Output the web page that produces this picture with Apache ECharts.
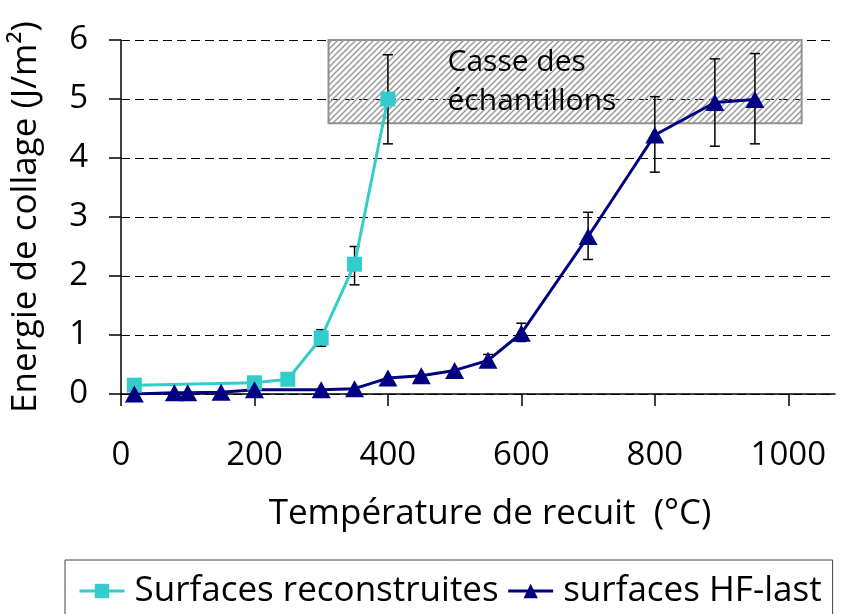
<!DOCTYPE html>
<html><head><meta charset="utf-8">
<script src="https://cdn.jsdelivr.net/npm/echarts@6/dist/echarts.min.js"></script>
<style>html,body{margin:0;padding:0;background:#fff}#c{width:847px;height:614px}</style>
</head><body><div id="c"></div>
<script>
// ---- data ----
const xTickLabels = [0, 200, 400, 600, 800, 1000];
const yTickLabels = [0, 1, 2, 3, 4, 5, 6];
const recName = 'Surfaces reconstruites';
const recX = [20, 200, 250, 300, 350, 400];
const recY = [0.15, 0.19, 0.25, 0.95, 2.2, 5.0];
const recErrX = [300, 350, 400];
const recErrLow = [0.81, 1.85, 4.24];
const recErrHigh = [1.09, 2.5, 5.75];
const hfName = 'surfaces HF-last';
const hfX = [20, 80, 100, 150, 200, 300, 350, 400, 450, 500, 550, 600, 700, 800, 890, 950];
const hfY = [0, 0.02, 0.02, 0.03, 0.07, 0.07, 0.09, 0.27, 0.31, 0.4, 0.57, 1.03, 2.67, 4.39, 4.94, 4.99];
const hfErrX = [550, 600, 700, 800, 890, 950];
const hfErrLow = [0.47, 0.89, 2.28, 3.76, 4.2, 4.24];
const hfErrHigh = [0.67, 1.2, 3.08, 5.04, 5.68, 5.77];
const zoneLabel = 'Casse des\néchantillons';
const zoneX = [311, 1020];
const zoneY = [4.59, 6.05];

// ---- build ----
const FONT = 'Open Sans';
const recData = recX.map((x, i) => [x, recY[i]]);
const hfData = hfX.map((x, i) => [x, hfY[i]]);
const errData = recErrX.map((x, i) => [x, recErrLow[i], recErrHigh[i]])
  .concat(hfErrX.map((x, i) => [x, hfErrLow[i], hfErrHigh[i]]));

// hatch pattern
const pc = document.createElement('canvas');
pc.width = 6; pc.height = 6;
const g = pc.getContext('2d');
g.strokeStyle = '#9a9a9a';
g.lineWidth = 1.5;
g.beginPath();
g.moveTo(0, 6); g.lineTo(6, 0);
g.moveTo(-1, 1); g.lineTo(1, -1);
g.moveTo(5, 7); g.lineTo(7, 5);
g.stroke();

const chart = echarts.init(document.getElementById('c'), null, {renderer: 'canvas'});
chart.setOption({
  animation: false,
  backgroundColor: '#fff',
  textStyle: {fontFamily: FONT, color: '#000'},
  grid: {left: 121, top: 40, right: 12, bottom: 220, containLabel: false},
  xAxis: {
    type: 'value', min: 0, max: 1070, interval: 200,
    name: 'Température de recuit  (°C)',
    nameLocation: 'middle', nameGap: 103,
    nameTextStyle: {fontFamily: FONT, fontSize: 35, color: '#000', padding: [0, 0, 0, 24]},
    axisLine: {show: true, lineStyle: {color: '#000', width: 1.5}},
    axisTick: {show: true, length: 12, lineStyle: {color: '#000', width: 1.5}},
    axisLabel: {
      fontFamily: FONT, fontSize: 33, color: '#000', margin: 45,
      showMaxLabel: false,
      formatter: v => (xTickLabels.indexOf(v) >= 0 ? String(v) : '')
    },
    splitLine: {show: false}
  },
  yAxis: {
    type: 'value', min: 0, max: 6, interval: 1,
    name: 'Energie de collage (J/m²)',
    nameLocation: 'middle', nameGap: 77, nameRotate: 90,
    nameTextStyle: {fontFamily: FONT, fontSize: 35, color: '#000'},
    axisLine: {show: true, lineStyle: {color: '#000', width: 1.5}},
    axisTick: {show: true, length: 12, lineStyle: {color: '#000', width: 1.5}},
    axisLabel: {
      fontFamily: FONT, fontSize: 33, color: '#000', margin: 33,
      formatter: v => (yTickLabels.indexOf(v) >= 0 ? String(v) : '')
    },
    splitLine: {show: true, lineStyle: {color: '#000', width: 1, type: [9, 5]}}
  },
  legend: {
    left: 65, top: 560,
    data: [recName, hfName],
    itemWidth: 45, itemHeight: 18, itemGap: 8,
    borderColor: '#444', borderWidth: 1,
    padding: [11, 11, 30, 13],
    lineStyle: {width: 3},
    textStyle: {fontFamily: FONT, fontSize: 35, color: '#000', lineHeight: 40, padding: [0, 0, 0, 5]}
  },
  series: [
    {
      name: 'errors', type: 'custom', z: 3,
      data: errData,
      encode: {x: 0, y: [1, 2]},
      renderItem: function (params, api) {
        const x = api.value(0);
        const top = api.coord([x, api.value(2)]);
        const bot = api.coord([x, api.value(1)]);
        const w = 5;
        const st = {stroke: '#000', lineWidth: 1.5};
        return {
          type: 'group',
          children: [
            {type: 'line', shape: {x1: top[0], y1: top[1], x2: bot[0], y2: bot[1]}, style: st},
            {type: 'line', shape: {x1: top[0] - w, y1: top[1], x2: top[0] + w, y2: top[1]}, style: st},
            {type: 'line', shape: {x1: bot[0] - w, y1: bot[1], x2: bot[0] + w, y2: bot[1]}, style: st}
          ]
        };
      },
      markArea: {
        silent: true,
        itemStyle: {color: {image: pc, repeat: 'repeat'}, borderColor: '#909090', borderWidth: 2},
        label: {
          show: true, position: 'insideLeft', distance: 120,
          formatter: zoneLabel,
          fontFamily: FONT, fontSize: 30, lineHeight: 39, color: '#000', align: 'left'
        },
        data: [[{coord: [zoneX[0], zoneY[1]]}, {coord: [zoneX[1], zoneY[0]]}]]
      }
    },
    {
      name: recName, type: 'line', z: 4,
      data: recData,
      symbol: 'rect', symbolSize: 15,
      lineStyle: {color: '#33CCCC', width: 3},
      itemStyle: {color: '#33CCCC'}
    },
    {
      name: hfName, type: 'line', z: 4,
      data: hfData,
      symbol: 'triangle', symbolSize: [19, 17],
      lineStyle: {color: '#000080', width: 3},
      itemStyle: {color: '#000080'}
    }
  ]
});
</script>
</body></html>
